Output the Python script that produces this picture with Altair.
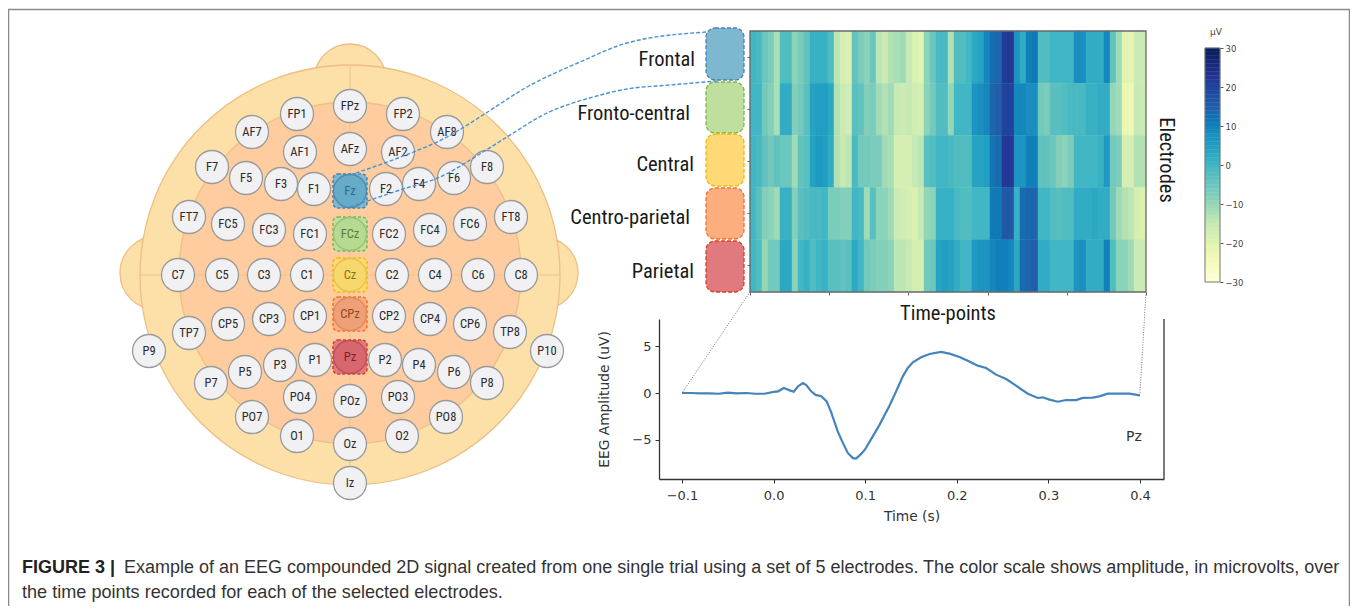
import altair as alt
import pandas as pd

W, H = 1342, 598
FONT_NARROW = "Roboto Condensed, DejaVu Sans Condensed, Roboto"

# ---- electrodes: montage positions
elec = ["FPz","FP1","FP2","AF7","AF1","AFz","AF2","AF8","F7","F5","F3","F1","Fz","F2","F4","F6","F8",
        "FT7","FC5","FC3","FC1","FCz","FC2","FC4","FC6","FT8","C7","C5","C3","C1","Cz","C2","C4","C6","C8",
        "TP7","CP5","CP3","CP1","CPz","CP2","CP4","CP6","TP8","P9","P10","P7","P5","P3","P1","Pz","P2","P4","P6","P8",
        "PO7","PO4","POz","PO3","PO8","O1","Oz","O2","Iz"]
elec_x = [350,297,403,252,300,350,398,447,212,246,281,314,350,386,419,454,487,
          189,228,269,310,350,389,430,470,511,178,222,264,307,350,392,435,478,521,
          189,228,269,310,350,389,430,470,510,149,547,211,245,280,315,350,385,419,454,487,
          252,300,350,398,446,297,350,402,350]
elec_y = [106,114,114,132,152,149,152,132,167,178,184,189,191,189,184,178,167,
          217,224,230,234,234,234,230,224,217,275,275,275,275,275,275,275,275,275,
          333,324,319,316,314,316,319,324,332,351,351,383,372,365,360,357,360,365,372,383,
          417,397,401,397,417,436,444,436,483]
hi_fill = {"Fz":"#66abc8","FCz":"#b5da90","Cz":"#f6d86c","CPz":"#f0a077","Pz":"#d8666f"}
hi_stroke = {"Fz":"#4f8ba6","FCz":"#98bf78","Cz":"#e3c050","CPz":"#d98a60","Pz":"#b85058"}
hi_text = {"Fz":"#2b6a86","FCz":"#55803a","Cz":"#8a7320","CPz":"#8a4a25","Pz":"#7a2228"}

# ---- regions
regions = ["Frontal","Fronto-central","Central","Centro-parietal","Parietal"]
region_fill = ["#7db7d0","#bfdf9f","#fed976","#fdae7f","#e07a7e"]
region_stroke = ["#4a80b0","#7ab648","#f5b800","#f07030","#d84020"]
block_top = [28,82,134,188,241]
block_bot = [80,133,186,239,292]
label_y = [60,114,165,218,272]
label_right = [695,690,694,690,694]
sq_elec = ["Fz","FCz","Cz","CPz","Pz"]
sq_top = [174,217,258,297,340]
sq_bot = [208,251,292,331,374]

# ---- heatmap values (uV), one list per region
heat_frontal = [0,-1,-5,-7,-12,-2,-2,-9,-7,-4,1,1,1,-2,-14,-18,-19,-4,-7,-9,-5,-14,-16,-13,-12,-11,-15,-19,-20,-9,-5,-1,-1,-13,
                -2,-2,0,3,4,9,13,14,21,22,7,2,10,11,-2,-2,0,0,0,0,8,8,2,2,2,9,-4,-11,-20,-21,-16,-16]
heat_fc = [0,0,-6,-8,-12,2,2,-8,-6,-3,4,5,5,3,-13,-16,-17,-3,-4,-8,-7,-11,-13,-11,-15,-16,-15,-17,-18,-9,-6,-2,-2,-10,
           0,0,0,7,8,9,14,15,20,20,9,9,8,8,-6,-7,-3,-3,-2,-1,-1,-1,1,1,2,2,-10,-11,-22,-23,-15,-16]
heat_c = [0,-1,-4,-6,-4,-5,-5,-11,-4,-3,4,6,5,2,-13,-15,-14,-1,-6,-6,-7,-7,-11,-12,-18,-18,-18,-15,-14,-3,-2,0,0,-1,
          -2,-2,-2,4,4,5,12,13,22,22,7,7,10,10,-4,-4,-5,-8,-9,-7,0,0,0,0,1,6,-6,-7,-18,-18,-13,-13]
heat_cp = [0,-3,-8,-9,-11,1,1,-8,-3,-2,-1,-1,0,-7,-7,-8,-8,0,-1,-11,-3,-9,-9,-11,-16,-17,-18,-19,-15,-10,-9,1,1,1,
           -1,-2,-2,0,0,0,11,11,16,16,1,13,14,14,0,0,-2,-3,-2,-2,2,2,2,3,2,2,-6,-11,-13,-14,-18,-19]
heat_p = [0,-2,-10,-6,-6,3,3,-9,0,1,-2,0,1,-3,-3,-4,-3,3,0,-6,-7,-8,-8,-9,-14,-14,-15,-18,-18,-6,-5,4,5,4,
          2,0,0,6,7,7,9,10,10,9,3,13,14,15,2,2,0,0,0,0,7,8,2,2,2,10,-2,-9,-9,-11,-16,-16]
heat_rows = [heat_frontal, heat_fc, heat_c, heat_cp, heat_p]

# ---- Pz trace
erp_t = [-.1,-.09,-.08,-.07,-.06,-.05,-.04,-.03,-.02,-.01,0,.005,.0111,.0177,.022,.0265,.032,.0357,.041,.0459,.052,.058,.063,.07,
         .0755,.081,.0865,.09,.0956,.1,.106,.1156,.1265,.1338,.1411,.1465,.152,.1611,.1702,.1829,.192,.2029,.212,.2229,.232,
         .2429,.2538,.2647,.2775,.2884,.2938,.3011,.3102,.3193,.3302,.3375,.3484,.3556,.3647,.3775,.3884,.4]
erp_v = [0,0,-.03,-.05,-.08,.05,-.03,0,-.08,-.08,.12,.18,.53,.28,.14,.7,1.07,.85,.18,-.2,-.35,-.9,-2.1,-4.1,
         -5.3,-6.4,-6.95,-7.0,-6.5,-6.0,-5.0,-3.4,-1.35,.18,1.78,2.67,3.27,3.81,4.16,4.38,4.2,3.84,3.45,2.92,2.67,
         1.96,1.49,.78,-.07,-.53,-.46,-.71,-.93,-.75,-.75,-.53,-.5,-.36,-.07,-.07,-.07,-.25]

# ---- connectors
curve1_x = [350,398,447,483,527,580,627,707]
curve1_y = [175,158,137,115,87,62,43,32]
curve2_x = [350,400,440,483,507,543,593,627,670,717]
curve2_y = [207,190,177,152,137,115,97,89,85,81]
cbar_levels = list(range(-30,30))
cbar_ticks = [-30,-20,-10,0,10,20,30]
ylgnbu_stops = [-30,-22.5,-15,-7.5,0,7.5,15,22.5,30]
ylgnbu = ["#ffffd9","#edf8b1","#c7e9b4","#7fcdbb","#41b6c4","#1d91c0","#225ea8","#253494","#081d58"]

FX = alt.Scale(domain=[8,8+W], range=[0,W], nice=False, zero=False)
FY = alt.Scale(domain=[8,8+H], range=[0,H], nice=False, zero=False)
def fx(f="x"): return alt.X(f"{f}:Q", scale=FX, axis=None, title=None)
def fy(f="y"): return alt.Y(f"{f}:Q", scale=FY, axis=None, title=None)

def box(x0,x1,y0,y1,mark):
    d = pd.DataFrame({"x":[x0],"x1":[x1],"y":[y0],"y1":[y1]})
    return alt.Chart(d).mark_rect(**mark).encode(x=fx(),x2="x1:Q",y=fy(),y2="y1:Q")
def seg(xs,ys,**mark):
    d = pd.DataFrame({"x":xs,"y":ys,"o":range(len(xs))})
    return alt.Chart(d).mark_line(**mark).encode(x=fx(),y=fy(),order="o:Q")
def label(x,y,t,**mark):
    d = pd.DataFrame({"x":[x],"y":[y],"t":[t]})
    return alt.Chart(d).mark_text(**mark).encode(x=fx(),y=fy(),text="t:N")

layers = []
# frame
layers.append(box(8.5,1349.5,9.5,650,dict(fill="transparent",stroke="#8a8a8a",strokeWidth=1.5)))

# head
head = pd.DataFrame({"x":[157,542,350,350,350],"y":[273,273,80,275,273],"d":[74,72,72,420,342],
                     "f":["#fde0a8"]*4+["#fecc9e"],"st":["#ecbf85"]*5})
for _,r in head.iterrows():
    layers.append(alt.Chart(pd.DataFrame([r])).mark_circle(opacity=1,fill=r.f,stroke=r.st,strokeWidth=1.3,size=float(r.d**2)).encode(x=fx(),y=fy()))
layers.append(seg([350,350],[66,484],stroke="#edc48f",strokeWidth=1))
layers.append(seg([140,560],[275,275],stroke="#edc48f",strokeWidth=1))

# highlight squares
for e,t,b,i in zip(sq_elec,sq_top,sq_bot,range(5)):
    layers.append(box(333,367,t,b,dict(fill=region_fill[i],stroke=region_stroke[i],strokeDash=[3,2],strokeWidth=1.5,cornerRadius=5)))

# electrodes
edf = pd.DataFrame({"x":elec_x,"y":elec_y,"t":elec})
edf["f"] = [hi_fill.get(e,"#f1f1f3") for e in elec]
edf["st"] = [hi_stroke.get(e,"#9a9a9a") for e in elec]
edf["tc"] = [hi_text.get(e,"#2a2a2a") for e in elec]
layers.append(alt.Chart(edf).mark_circle(size=1089,opacity=1,strokeWidth=1.3).encode(
    x=fx(),y=fy(),fill=alt.Fill("f:N",scale=None),stroke=alt.Stroke("st:N",scale=None)))
layers.append(alt.Chart(edf).mark_text(font=FONT_NARROW,fontSize=12.5,baseline="middle").encode(
    x=fx(),y=fy(),text="t:N",fill=alt.Fill("tc:N",scale=None)))

# blocks and labels
for i,r in enumerate(regions):
    layers.append(box(706,744,block_top[i],block_bot[i],dict(fill=region_fill[i],stroke=region_stroke[i],strokeDash=[4,2],strokeWidth=1.3,cornerRadius=9)))
    layers.append(label(label_right[i],label_y[i],r,font=FONT_NARROW,fontSize=20.5,align="right",baseline="middle",fill="#1a1a1a"))

# heatmap
hdf = pd.DataFrame([{"row":r,"c0":j,"c1":j+1,"v":v} for r,vals in zip(regions,heat_rows) for j,v in enumerate(vals)])
cs = alt.Scale(domain=ylgnbu_stops,range=ylgnbu)
layers.append(alt.Chart(hdf).mark_rect(strokeWidth=0.4).encode(
    x=alt.X("c0:Q",scale=alt.Scale(domain=[0,66],range=[742,1138],nice=False,zero=False),title=None,
            axis=alt.Axis(orient="bottom",offset=284-H,values=[0,13.2,26.4,39.6,52.8,66],labels=False,tickSize=3,domain=False,grid=False,tickColor="#666")),
    x2="c1:Q",
    y=alt.Y("row:N",scale=alt.Scale(domain=regions,range=[23,284]),title=None,
            axis=alt.Axis(orient="left",offset=-742,labels=False,tickSize=3,domain=False,grid=False,tickColor="#666")),
    color=alt.Color("v:Q",scale=cs,legend=None),
    stroke=alt.Stroke("v:Q",scale=cs,legend=None)))
layers.append(box(750,1146,31,292,dict(fill="transparent",stroke="#6a6a6a",strokeWidth=1.3)))
layers.append(label(948,314,"Time-points",font=FONT_NARROW,fontSize=20.5,align="center",baseline="middle",fill="#1a1a1a"))
layers.append(label(1166,160,"Electrodes",font=FONT_NARROW,fontSize=20.5,align="center",baseline="middle",angle=90,fill="#1a1a1a"))

# colour bar
cdf = pd.DataFrame({"a":cbar_levels,"b":[v+1 for v in cbar_levels],"m":[v+.5 for v in cbar_levels],"k":[""]*len(cbar_levels)})
layers.append(alt.Chart(cdf).mark_rect(strokeWidth=0.4).encode(
    x=alt.X("k:N",scale=alt.Scale(domain=[""],range=[1197,1212]),axis=None,title=None),
    y=alt.Y("a:Q",scale=alt.Scale(domain=[-30,30],range=[274,40],nice=False,zero=False),title=None,
            axis=alt.Axis(orient="right",offset=1212-W,values=cbar_ticks,tickSize=3,domain=False,grid=False,tickColor="#555",
                          labelFont="DejaVu Sans",labelFontSize=8.5,labelColor="#444",labelPadding=2)),
    y2="b:Q",
    color=alt.Color("m:Q",scale=cs,legend=None),
    stroke=alt.Stroke("m:Q",scale=cs,legend=None)))
layers.append(box(1205,1220,48,282,dict(fill="transparent",stroke="#777",strokeWidth=1)))
layers.append(label(1216,32,"µV",font="DejaVu Sans",fontSize=9,align="center",baseline="middle",fill="#444"))

# connectors
layers.append(seg(curve1_x,curve1_y,stroke="#4a92d4",strokeDash=[4,2],strokeWidth=1.4,interpolate="monotone"))
layers.append(seg(curve2_x,curve2_y,stroke="#4a92d4",strokeDash=[4,2],strokeWidth=1.4,interpolate="monotone"))
layers.append(seg([750,682],[292,393],stroke="#777",strokeDash=[1,1.5],strokeWidth=1))
layers.append(seg([1146,1140],[292,393],stroke="#777",strokeDash=[1,1.5],strokeWidth=1))

# ERP line
XS = alt.Scale(domain=[-.1251,.4262],range=[651,1156],nice=False,zero=False)
YS = alt.Scale(domain=[-9.18,7.9],range=[471,311],nice=False,zero=False)
erp = pd.DataFrame({"t":erp_t,"v":erp_v})
axis_style = dict(grid=False,domainColor="#333",domainWidth=1.3,tickColor="#333",tickSize=4,
                  labelFont="DejaVu Sans",labelFontSize=13,labelColor="#333",titleFont="DejaVu Sans",
                  titleFontSize=13.8,titleFontWeight="normal",titleColor="#333")
layers.append(alt.Chart(erp).mark_line(stroke="#4484bb",strokeWidth=2.2).encode(
    x=alt.X("t:Q",scale=XS,title="Time (s)",axis=alt.Axis(orient="bottom",offset=471-H,values=[-.1,0,.1,.2,.3,.4],format=".1f",labelPadding=6,titlePadding=7,**axis_style)),
    y=alt.Y("v:Q",scale=YS,title="EEG Amplitude (uV)",axis=alt.Axis(orient="left",offset=-651,values=[-5,0,5],format="d",labelPadding=4,titlePadding=20,**axis_style))))
spine = pd.DataFrame({"t":[.4262],"a":[7.9],"b":[-9.18]})
layers.append(alt.Chart(spine).mark_rule(stroke="#333",strokeWidth=1.3).encode(
    x=alt.X("t:Q",scale=XS,axis=None),y=alt.Y("a:Q",scale=YS,axis=None),y2="b:Q"))
layers.append(label(1134,437,"Pz",font="DejaVu Sans",fontSize=14,align="center",baseline="middle",fill="#333"))

# caption
layers.append(label(22,573,"FIGURE 3 |",font="Liberation Sans",fontSize=18,fontWeight="bold",align="left",baseline="alphabetic",fill="#222"))
layers.append(label(124,573,"Example of an EEG compounded 2D signal created from one single trial using a set of 5 electrodes. The color scale shows amplitude, in microvolts, over",
                    font="Liberation Sans",fontSize=18,align="left",baseline="alphabetic",fill="#333"))
layers.append(label(22,598,"the time points recorded for each of the selected electrodes.",
                    font="Liberation Sans",fontSize=18.1,align="left",baseline="alphabetic",fill="#333"))

chart = alt.layer(*layers).resolve_scale(x="independent",y="independent",color="shared").properties(
    width=W,height=H,padding=0,autosize=alt.AutoSizeParams(type="none")).configure_view(stroke=None)
chart.save("out.html", embed_options={"renderer":"svg","actions":False})
